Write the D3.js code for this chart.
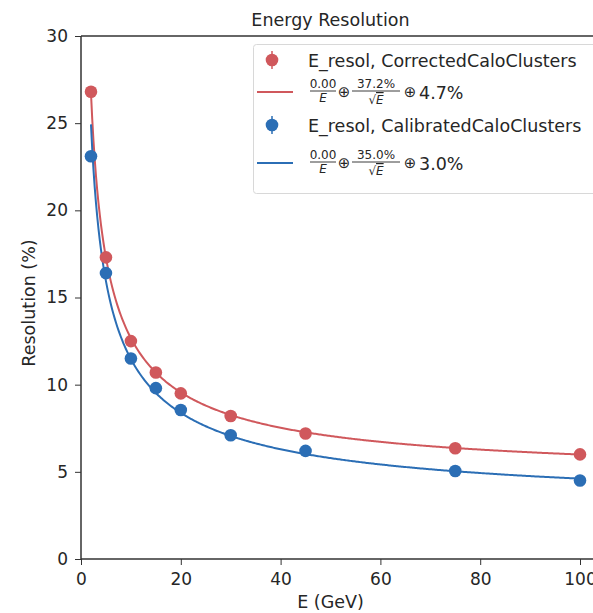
<!DOCTYPE html>
<meta charset="utf-8">
<head>
<script src="https://d3js.org/d3.v7.min.js"></script>
<style>
  body { margin: 0; background: #fff; }
  text { font-family: "DejaVu Sans", sans-serif; fill: #262626; }
</style>
</head>
<body>
<div id="chart"></div>
<script>
// energies (GeV) and measured resolution (%)
var energies = [2, 5, 10, 15, 20, 30, 45, 75, 100];
var correctedRes = [26.8, 17.3, 12.5, 10.7, 9.5, 8.2, 7.2, 6.35, 6.0];
var calibratedRes = [23.1, 16.4, 11.5, 9.8, 8.55, 7.1, 6.2, 5.05, 4.5];

// fit parameters shown in the legend: a/E (+) b/sqrt(E) (+) c
var correctedFit = {a: 0.00, b: 37.2, c: 4.7};
var calibratedFit = {a: 0.00, b: 35.0, c: 3.0};

var xTicks = [0, 20, 40, 60, 80, 100];
var yTicks = [0, 5, 10, 15, 20, 25, 30];

var W = 593, H = 613;
var pLeft = 81, pTop = 36, pRight = 580, pBottom = 559;

var svg = d3.select("#chart").append("svg")
  .attr("width", W).attr("height", H);

var x = d3.scaleLinear().domain([0, 100]).range([pLeft, pRight]);
var y = d3.scaleLinear().domain([0, 30]).range([pBottom, pTop]);

var red = "#d0585c", blue = "#2b6eb5";

// fit curve sampled between first and last energy
function fitCurve(p) {
  var pts = [];
  for (var e = 2; e <= 100; e += 0.25) {
    var v = Math.sqrt(Math.pow(p.a / e, 2) + Math.pow(p.b / Math.sqrt(e), 2) + p.c * p.c);
    pts.push([e, v]);
  }
  return pts;
}

var line = d3.line().x(function(d){ return x(d[0]); }).y(function(d){ return y(d[1]); });

svg.append("path").datum(fitCurve(correctedFit))
  .attr("d", line).attr("fill", "none").attr("stroke", red).attr("stroke-width", 2);
svg.append("path").datum(fitCurve(calibratedFit))
  .attr("d", line).attr("fill", "none").attr("stroke", blue).attr("stroke-width", 2);

function dots(vals, col) {
  svg.append("g").selectAll("circle")
    .data(vals).enter().append("circle")
      .attr("cx", function(d, i){ return x(energies[i]); })
      .attr("cy", function(d){ return y(d); })
      .attr("r", 6.3)
      .attr("fill", col);
}
dots(correctedRes, red);
dots(calibratedRes, blue);

// spines: left, bottom, top (right one is outside the picture)
svg.append("line").attr("x1", pLeft).attr("x2", pLeft).attr("y1", pTop).attr("y2", pBottom)
  .attr("stroke", "#333").attr("stroke-width", 1.5);
svg.append("line").attr("x1", pLeft).attr("x2", W).attr("y1", pBottom).attr("y2", pBottom)
  .attr("stroke", "#333").attr("stroke-width", 1.5);
svg.append("line").attr("x1", pLeft).attr("x2", W).attr("y1", pTop).attr("y2", pTop)
  .attr("stroke", "#333").attr("stroke-width", 1.5);

// axes ticks
var xAxis = svg.append("g").attr("transform", "translate(0," + pBottom + ")")
  .call(d3.axisBottom(x).tickValues(xTicks).tickSize(6).tickPadding(8));
var yAxis = svg.append("g").attr("transform", "translate(" + pLeft + ",0)")
  .call(d3.axisLeft(y).tickValues(yTicks).tickSize(6).tickPadding(7));
[xAxis, yAxis].forEach(function(a) {
  a.select(".domain").remove();
  a.selectAll("line").attr("stroke", "#333");
  a.selectAll("text").attr("font-size", "17px").attr("font-family", "DejaVu Sans").attr("fill", "#262626");
});

// labels
svg.append("text").attr("x", x(50)).attr("y", 26).attr("text-anchor", "middle")
  .attr("font-size", "17.5px").text("Energy Resolution");
svg.append("text").attr("x", x(50)).attr("y", 608).attr("text-anchor", "middle")
  .attr("font-size", "17.5px").text("E (GeV)");
svg.append("text").attr("transform", "translate(35,303) rotate(-90)")
  .attr("text-anchor", "middle").attr("font-size", "17.5px").text("Resolution (%)");

// legend
var lg = svg.append("g");
lg.append("rect").attr("x", 253.5).attr("y", 44.5).attr("width", 345).attr("height", 149).attr("rx", 3)
  .attr("fill", "#fff").attr("fill-opacity", 0.85).attr("stroke", "#d8d8d8");

function legendPoint(cy, col, label) {
  lg.append("line").attr("x1", 272).attr("x2", 272).attr("y1", cy - 9).attr("y2", cy + 9)
    .attr("stroke", col).attr("stroke-width", 1.5);
  lg.append("circle").attr("cx", 272).attr("cy", cy).attr("r", 6.3).attr("fill", col);
  lg.append("text").attr("x", 308).attr("y", cy + 6.5).attr("font-size", "17.5px").text(label);
}
function legendFit(cy, col, p) {
  lg.append("line").attr("x1", 257).attr("x2", 293).attr("y1", cy).attr("y2", cy)
    .attr("stroke", col).attr("stroke-width", 2);
  var g = lg.append("g").attr("transform", "translate(308," + cy + ")");
  // a / E
  g.append("text").attr("x", 15).attr("y", -4).attr("font-size", "12px").attr("text-anchor", "middle").text(p.a.toFixed(2));
  g.append("line").attr("x1", 2).attr("x2", 28).attr("y1", -1).attr("y2", -1).attr("stroke", "#262626").attr("stroke-width", 0.9);
  g.append("text").attr("x", 15).attr("y", 10).attr("font-size", "12px").attr("font-style", "italic").attr("text-anchor", "middle").text("E");
  g.append("text").attr("x", 36).attr("y", 5).attr("font-size", "15px").attr("text-anchor", "middle").text("\u2295");
  // b / sqrt(E)
  g.append("text").attr("x", 68).attr("y", -4).attr("font-size", "12px").attr("text-anchor", "middle").text(p.b.toFixed(1) + "%");
  g.append("line").attr("x1", 44).attr("x2", 92).attr("y1", -1).attr("y2", -1).attr("stroke", "#262626").attr("stroke-width", 0.9);
  g.append("text").attr("x", 68).attr("y", 12).attr("font-size", "12px").attr("text-anchor", "middle")
    .html('\u221A<tspan font-style="italic" text-decoration="overline">E</tspan>');
  g.append("text").attr("x", 102).attr("y", 5).attr("font-size", "15px").attr("text-anchor", "middle").text("\u2295");
  g.append("text").attr("x", 111).attr("y", 6.5).attr("font-size", "17.5px").text(p.c.toFixed(1) + "%");
}
legendPoint(60, red, "E_resol, CorrectedCaloClusters");
legendFit(92, red, correctedFit);
legendPoint(125, blue, "E_resol, CalibratedCaloClusters");
legendFit(163, blue, calibratedFit);
</script>
</body>
